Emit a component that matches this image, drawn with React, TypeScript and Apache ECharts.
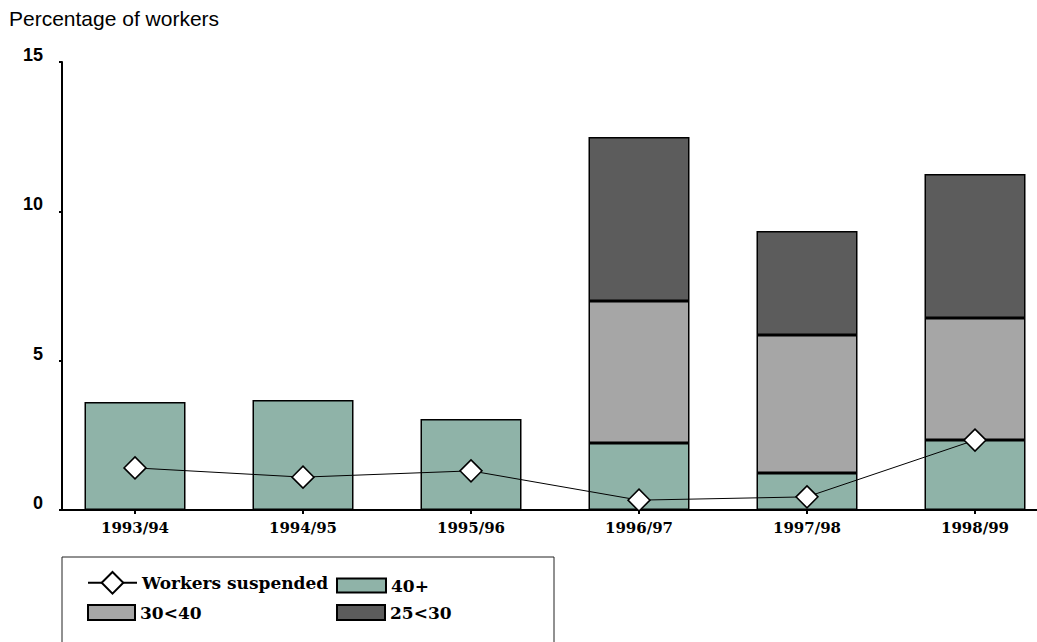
import React, { useEffect, useRef } from "react";
import * as echarts from "echarts";

const categories = ["1993/94", "1994/95", "1995/96", "1996/97", "1997/98", "1998/99"];
const age40plus = [3.62, 3.68, 3.05, 2.24, 1.24, 2.34];
const age30to40 = [null, null, null, 4.76, 4.62, 4.09];
const age25to30 = [null, null, null, 5.49, 3.48, 4.82];
const workersSuspended = [1.41, 1.1, 1.31, 0.33, 0.44, 2.34];
const yTicks = [0, 5, 10, 15];

const serif = "'DejaVu Serif', serif";
const sans = "Arial, 'Liberation Sans', sans-serif";

export default function App() {
  const ref = useRef<HTMLDivElement>(null);
  useEffect(() => {
    if (!ref.current) return;
    const chart = echarts.init(ref.current, undefined, { renderer: "svg" });
    const legendText = { fontFamily: serif, fontWeight: "bold", fontSize: 17, color: "#000" };
    const barLegendStyle = { borderColor: "#000", borderWidth: 2 };
    chart.setOption({
      animation: false,
      backgroundColor: "#fff",
      title: {
        text: "Percentage of workers",
        left: 9,
        top: 8,
        padding: 0,
        textStyle: { fontFamily: sans, fontWeight: "normal", fontSize: 21, color: "#000" },
      },
      graphic: [
        {
          type: "rect",
          shape: { x: 62, y: 557, width: 492, height: 100 },
          style: { fill: "none", stroke: "#222", lineWidth: 1 },
          z: 0,
        },
      ],
      legend: [
        {
          data: ["Workers suspended"],
          left: 87,
          top: 571,
          padding: 0,
          itemWidth: 49,
          itemHeight: 27,
          textStyle: legendText,
        },
        {
          data: ["40+"],
          left: 336,
          top: 577,
          padding: 0,
          icon: "rect",
          itemWidth: 49,
          itemHeight: 14,
          itemStyle: barLegendStyle,
          textStyle: legendText,
        },
        {
          data: ["30<40"],
          left: 87,
          top: 604,
          padding: 0,
          icon: "rect",
          itemWidth: 47,
          itemHeight: 15,
          itemStyle: barLegendStyle,
          textStyle: legendText,
        },
        {
          data: ["25<30"],
          left: 336,
          top: 604,
          padding: 0,
          icon: "rect",
          itemWidth: 48,
          itemHeight: 15,
          itemStyle: barLegendStyle,
          textStyle: legendText,
        },
      ],
      grid: [
        { left: 51, width: 1008, top: 62, bottom: 132, outerBoundsMode: "none" },
        { left: 62, right: 0, top: 62, bottom: 132, outerBoundsMode: "none" },
      ],
      xAxis: [
        {
          type: "category",
          gridIndex: 0,
          data: categories,
          axisLine: { show: false },
          axisTick: { show: true, alignWithLabel: true, length: 4, lineStyle: { color: "#000", width: 2 } },
          axisLabel: {
            margin: 10,
            fontFamily: serif,
            fontWeight: "bold",
            fontSize: 15,
            color: "#000",
          },
        },
        {
          type: "value",
          gridIndex: 1,
          min: 0,
          max: 1,
          axisLine: { show: true, lineStyle: { color: "#000", width: 2 } },
          axisTick: { show: false },
          axisLabel: { show: false },
          splitLine: { show: false },
        },
      ],
      yAxis: [
        { type: "value", gridIndex: 0, min: 0, max: 15, interval: 5, show: false },
        {
          type: "value",
          gridIndex: 1,
          min: yTicks[0],
          max: yTicks[yTicks.length - 1],
          interval: 5,
          axisLine: { show: true, lineStyle: { color: "#000", width: 2 } },
          axisTick: { show: true, length: 3, lineStyle: { color: "#000", width: 2 } },
          splitLine: { show: false },
          axisLabel: {
            margin: 19,
            verticalAlign: "bottom",
            lineHeight: 14,
            fontFamily: sans,
            fontWeight: "bold",
            fontSize: 18,
            color: "#000",
          },
        },
      ],
      series: [
        {
          name: "40+",
          type: "bar",
          stack: "a",
          xAxisIndex: 0,
          yAxisIndex: 0,
          barWidth: 101,
          data: age40plus,
          itemStyle: { color: "#8fb3a8", borderColor: "#000", borderWidth: 1.5 },
        },
        {
          name: "30<40",
          type: "bar",
          stack: "a",
          xAxisIndex: 0,
          yAxisIndex: 0,
          barWidth: 101,
          data: age30to40,
          itemStyle: { color: "#a6a6a6", borderColor: "#000", borderWidth: 1.5 },
        },
        {
          name: "25<30",
          type: "bar",
          stack: "a",
          xAxisIndex: 0,
          yAxisIndex: 0,
          barWidth: 101,
          data: age25to30,
          itemStyle: { color: "#5c5c5c", borderColor: "#000", borderWidth: 1.5 },
        },
        {
          name: "Workers suspended",
          type: "line",
          xAxisIndex: 0,
          yAxisIndex: 0,
          data: workersSuspended,
          symbol: "diamond",
          symbolSize: 22,
          z: 5,
          lineStyle: { color: "#000", width: 1 },
          itemStyle: { color: "#fff", borderColor: "#000", borderWidth: 1.5 },
        },
      ],
    });
    return () => chart.dispose();
  }, []);
  return (
    <div
      ref={ref}
      style={{ position: "absolute", left: 0, top: 0, width: 1037, height: 642 }}
    />
  );
}
